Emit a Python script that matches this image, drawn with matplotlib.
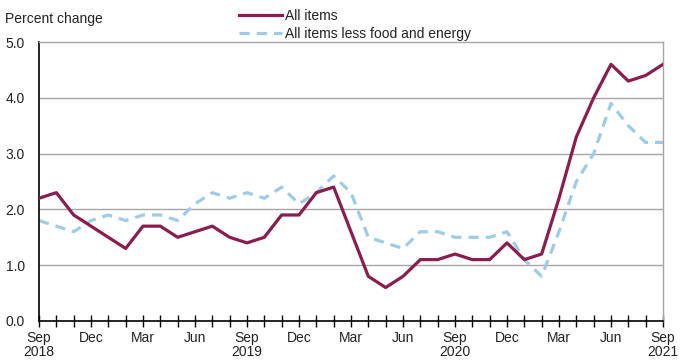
import numpy as np
import matplotlib
matplotlib.use("Agg")
import matplotlib.pyplot as plt
from matplotlib.ticker import MultipleLocator

plt.rcParams['font.family'] = ['Liberation Sans', 'DejaVu Sans']

# monthly, Sep 2018 .. Sep 2021
months = ['Sep', 'Oct', 'Nov', 'Dec', 'Jan', 'Feb', 'Mar', 'Apr', 'May', 'Jun', 'Jul', 'Aug'] * 3 + ['Sep']
all_items = [2.2, 2.3, 1.9, 1.7, 1.5, 1.3, 1.7, 1.7, 1.5, 1.6, 1.7, 1.5,
             1.4, 1.5, 1.9, 1.9, 2.3, 2.4, 1.6, 0.8, 0.6, 0.8, 1.1, 1.1,
             1.2, 1.1, 1.1, 1.4, 1.1, 1.2, 2.2, 3.3, 4.0, 4.6, 4.3, 4.4,
             4.6]
core = [1.8, 1.7, 1.6, 1.8, 1.9, 1.8, 1.9, 1.9, 1.8, 2.1, 2.3, 2.2,
        2.3, 2.2, 2.4, 2.1, 2.3, 2.6, 2.3, 1.5, 1.4, 1.3, 1.6, 1.6,
        1.5, 1.5, 1.5, 1.6, 1.1, 0.8, 1.6, 2.5, 3.0, 3.9, 3.5, 3.2,
        3.2]
years = {0: '2018', 12: '2019', 24: '2020', 36: '2021'}

x = np.arange(len(all_items))

fig = plt.figure(figsize=(6.82, 3.64), dpi=100)
ax = fig.add_axes([39/682, 1-321/364, (663-39)/682, (321-42)/364])

for v in [1, 2, 3, 4]:
    ax.axhline(v, color='#a6a6a6', lw=1, zorder=1)

l1, = ax.plot(x, all_items, color='#8b1d4e', lw=2.3, label='All items', zorder=3)
l2, = ax.plot(x, core, color='#9dcbe9', lw=2.3, ls=(0, (3.2, 2.2)),
              label='All items less food and energy', zorder=2)

ax.set_xlim(0, 36)
ax.set_ylim(0, 5)
ax.yaxis.set_major_locator(MultipleLocator(1))
ax.set_yticklabels([f'{v:.1f}' for v in ax.get_yticks()])
ax.tick_params(axis='y', length=0, labelsize=10, pad=10, colors='#222222')

ax.set_xticks(x, minor=True)
major = [i for i in x if i % 3 == 0]
ax.set_xticks(major)
labels = []
for i in major:
    lab = months[i]
    if i in years:
        lab += '\n' + years[i]
    labels.append(lab)
ax.set_xticklabels(labels, fontsize=10, linespacing=1.05)
ax.tick_params(axis='x', which='both', direction='inout', length=8, width=1,
               colors='black', pad=3)
ax.tick_params(axis='x', which='major', labelcolor='#222222')

for s in ['left', 'bottom']:
    ax.spines[s].set_color('black')
    ax.spines[s].set_linewidth(1.2)
for s in ['top', 'right']:
    ax.spines[s].set_color('#a6a6a6')
    ax.spines[s].set_linewidth(1)

fig.text(5/682, 1-19/364, 'Percent change', fontsize=10, va='center', ha='left', color='#222222')
leg = fig.legend(handles=[l1, l2], loc='upper left', bbox_to_anchor=(230/682, 1.0),
                 frameon=False, fontsize=10, handlelength=3.1, handletextpad=0.2,
                 labelspacing=0.3, borderpad=0.15)
for t in leg.get_texts():
    t.set_color('#222222')

fig.savefig('out.png', dpi=100)
